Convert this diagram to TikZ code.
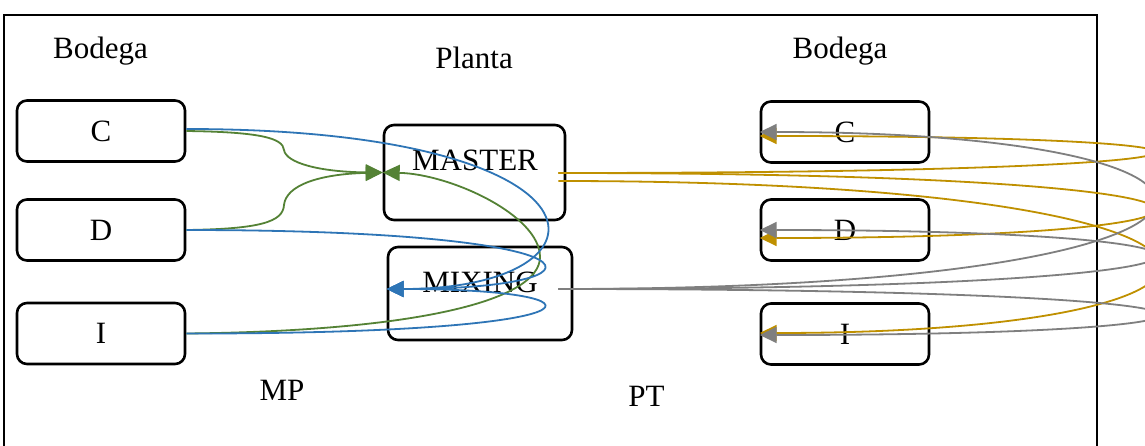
\documentclass[tikz,border=0pt]{standalone}
\usepackage{fontspec}
\setmainfont{Liberation Serif}
\usetikzlibrary{arrows.meta}
\definecolor{cblue}{RGB}{46,117,182}
\definecolor{cgreen}{RGB}{84,130,53}
\definecolor{cgold}{RGB}{191,144,0}
\definecolor{cgray}{RGB}{127,127,127}
\tikzset{
  txt/.style={font=\fontsize{31pt}{37pt}\selectfont, inner sep=0pt},
  box/.style={draw=black, line width=2.6pt, rounded corners=10pt, inner sep=0pt,
    font=\fontsize{31pt}{37pt}\selectfont},
  smallbox/.style={box, minimum width=168pt, minimum height=61pt},
  conn/.style={line width=1.8pt, -{Triangle[length=17pt,width=16pt]}},
}
\begin{document}
\begin{tikzpicture}[x=1pt,y=-1pt]
\useasboundingbox (0,0) rectangle (1145,445);
\clip (0,0) rectangle (1145,445);
\fill[white] (0,0) rectangle (1145,445);
\draw[line width=2.6pt] (4,15) rectangle (1097,500);

% titles
\node[txt, anchor=base] (bodl) at (100.5,58) {Bodega};
\node[txt, anchor=base] (plan) at (474,68) {Planta};
\node[txt, anchor=base] (bodr) at (840,58) {Bodega};
\node[txt, anchor=base] (mp) at (282,400) {MP};
\node[txt, anchor=base] (pt) at (646.5,406) {PT};

% boxes
\node[smallbox] (lc) at (101,131) {C};
\node[smallbox] (ld) at (101,230) {D};
\node[smallbox] (li) at (101,333.5) {I};
\node[smallbox] (rc) at (845,132) {C};
\node[smallbox] (rd) at (845,230) {D};
\node[smallbox] (ri) at (845,334) {I};
\node[box, minimum width=181pt, minimum height=95pt] (master) at (474.5,172.5) {};
\node[box, minimum width=184pt, minimum height=93pt] (mixing) at (480,293.5) {};
\node[txt, anchor=base] (mastertxt) at (475,170) {MASTER};
\node[txt, anchor=base] (mixingtxt) at (480,292) {MIXING};

% anchor points
\coordinate (cE) at ([yshift=2pt]lc.east);
\coordinate (mxW) at ([yshift=4.5pt]mixing.west);
\coordinate (mE1) at ([xshift=-8pt,yshift=-0.5pt]master.east);
\coordinate (mE2) at ([xshift=-8pt,yshift=-8.5pt]master.east);
\coordinate (xE) at ([xshift=-15pt,yshift=4.5pt]mixing.east);

% green
\draw[conn, cgreen] (lc.east) .. controls (260,132) and (283,138) .. (284,150)
  .. controls (286,163) and (320,172) .. (master.west);
\draw[conn, cgreen] (ld.east) .. controls (260,229) and (283,222) .. (284,205)
  .. controls (286,185) and (320,174) .. (master.west);
\draw[conn, cgreen] (li.east) .. controls (420,331) and (540,300) .. (540,257)
  .. controls (540,215) and (450,174) .. (master.west);

% blue
\draw[conn, cblue] (cE) .. controls (624,129) and (624,289) .. (mxW);
\draw[conn, cblue] (ld.east) .. controls (620,230) and (620,289) .. (mxW);
\draw[conn, cblue] (li.east) .. controls (620,334) and (620,289) .. (mxW);

% gold
\draw[conn, cgold] (mE1) .. controls (1314,173) and (1314,136) .. ([yshift=-4pt]rc.west);
\draw[conn, cgold] (mE1) .. controls (1314,173) and (1314,238) .. ([yshift=-8pt]rd.west);
\draw[conn, cgold] (mE2) .. controls (1320,181) and (1320,333) .. ([yshift=1pt]ri.west);

% gray
\draw[conn, cgray] (xE) .. controls (1314,289) and (1314,132) .. (rc.west);
\draw[conn, cgray] (xE) .. controls (1316,289) and (1316,230) .. (rd.west);
\draw[conn, cgray] (xE) .. controls (1320,289) and (1320,335) .. ([yshift=-1pt]ri.west);
\end{tikzpicture}
\end{document}
